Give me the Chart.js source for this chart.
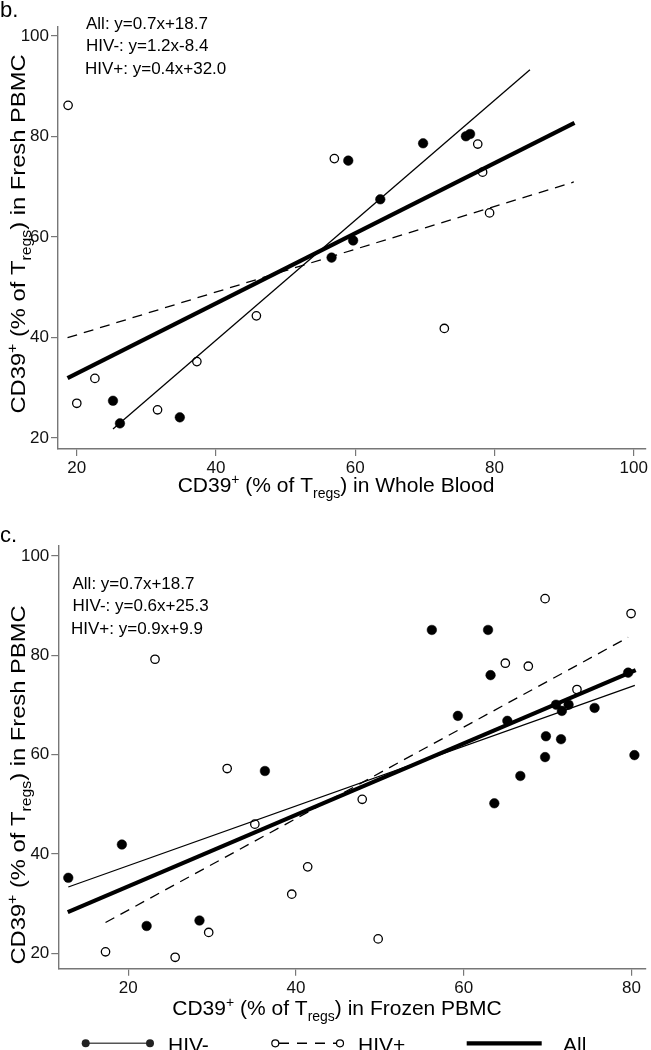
<!DOCTYPE html>
<html>
<head>
<meta charset="utf-8">
<script src="https://cdn.jsdelivr.net/npm/chart.js@4.4.1/dist/chart.umd.min.js"></script>
<style>
  html, body { margin: 0; padding: 0; background: #fff; }
  #wrap { position: relative; width: 651px; height: 1050px; overflow: hidden; background: #fff; }
  canvas { position: absolute; left: 0; }
  #c1 { top: 0; }
  #c2 { top: 505px; }
</style>
</head>
<body>
<div id="wrap">
  <canvas id="c1" width="651" height="505"></canvas>
  <canvas id="c2" width="651" height="545"></canvas>
</div>
<script>
// ---------- Panel b: Whole Blood vs Fresh PBMC ----------
const bNegX = [25.2, 26.2, 34.8, 56.6, 59.0, 59.7, 63.6, 69.75, 75.9, 76.5];
const bNegY = [27.4, 22.9, 24.1, 55.9, 75.2, 59.3, 67.5, 78.65, 80.05, 80.5];
const bPosX = [18.75, 20.0, 22.6, 31.6, 37.25, 45.8, 57.0, 72.8, 77.6, 78.3, 79.3];
const bPosY = [86.2, 26.9, 31.85, 25.6, 35.2, 44.3, 75.6, 41.8, 78.5, 72.9, 64.8];
const bFitAllX = [18.67, 91.5];  const bFitAllY = [31.9, 82.7];
const bFitNegX = [25.2, 85.1];   const bFitNegY = [21.8, 93.3];
const bFitPosX = [18.67, 91.4];  const bFitPosY = [39.95, 70.95];
const bEquations = ["All: y=0.7x+18.7", "HIV-: y=1.2x-8.4", "HIV+: y=0.4x+32.0"];
const bXTicks = [20, 40, 60, 80, 100];
const bYTicks = [20, 40, 60, 80, 100];

// ---------- Panel c: Frozen PBMC vs Fresh PBMC ----------
const cNegX = [12.86, 19.25, 22.2, 28.5, 36.3, 56.2, 59.3, 62.9, 63.2, 63.65, 65.2, 66.75, 69.7, 69.8, 71.0, 71.6, 71.7, 72.5, 75.6, 79.6, 80.35];
const cNegY = [35.2, 41.9, 25.5, 26.6, 56.7, 85.1, 67.8, 85.1, 76.0, 50.2, 66.8, 55.7, 59.5, 63.7, 70.05, 63.1, 68.8, 70.05, 69.4, 76.5, 59.9];
const cPosX = [17.3, 23.2, 25.6, 29.6, 31.8, 35.1, 39.5, 41.4, 47.9, 49.8, 64.96, 67.7, 69.7, 73.5, 79.95];
const cPosY = [20.3, 79.2, 19.2, 24.2, 57.2, 46.0, 31.9, 37.4, 51.0, 22.9, 78.4, 77.8, 91.4, 73.1, 88.4];
const cFitAllX = [12.8, 80.5];   const cFitAllY = [28.3, 77.0];
const cFitNegX = [12.86, 80.4];  const cFitNegY = [33.35, 73.95];
const cFitPosX = [17.3, 79.6];   const cFitPosY = [26.2, 83.6];
const cEquations = ["All: y=0.7x+18.7", "HIV-: y=0.6x+25.3", "HIV+: y=0.9x+9.9"];
const cXTicks = [20, 40, 60, 80];
const cYTicks = [20, 40, 60, 80, 100];

const legendLabels = ["HIV-", "HIV+", "All"];

const FONT = '"Liberation Sans", Arial, Helvetica, sans-serif';
const AXIS = '#777';

function pts(xs, ys) { return xs.map((x, i) => ({ x: x, y: ys[i] })); }

function richText(ctx, segs, x, y, size, small) {
  let total = 0;
  const widths = segs.map(([t, k]) => {
    ctx.font = (k === 'n' ? size : small) + 'px ' + FONT;
    const w = ctx.measureText(t).width; total += w; return w;
  });
  let cx = x - total / 2;
  segs.forEach(([t, k], i) => {
    ctx.font = (k === 'n' ? size : small) + 'px ' + FONT;
    let dy = 0;
    if (k === 'sup') dy = -Math.round(size * 0.38);
    if (k === 'sub') dy = Math.round(size * 0.28);
    ctx.fillText(t, cx, y + dy);
    cx += widths[i];
  });
}

function makeChart(id, cfg) {
  const datasets = [
    { type: 'line', label: 'All fit', data: pts(cfg.fitAllX, cfg.fitAllY), borderColor: '#000', borderWidth: 4.2, pointRadius: 0, fill: false, order: 1 },
    { type: 'line', label: 'HIV- fit', data: pts(cfg.fitNegX, cfg.fitNegY), borderColor: '#000', borderWidth: 1.3, pointRadius: 0, fill: false, order: 2 },
    { type: 'line', label: 'HIV+ fit', data: pts(cfg.fitPosX, cfg.fitPosY), borderColor: '#000', borderWidth: 1.3, borderDash: [10, 7], pointRadius: 0, fill: false, order: 3 },
    { type: 'scatter', label: 'HIV-', data: pts(cfg.negX, cfg.negY), pointRadius: 4.8, pointBackgroundColor: '#000', pointBorderColor: '#000', pointBorderWidth: 0.5, order: 4 },
    { type: 'scatter', label: 'HIV+', data: pts(cfg.posX, cfg.posY), pointRadius: 4.2, pointBackgroundColor: '#fff', pointBorderColor: '#000', pointBorderWidth: 1.3, order: 5 }
  ];
  const textPlugin = {
    id: 'texts' + id,
    afterDraw(chart) {
      const ctx = chart.ctx;
      ctx.save();
      ctx.fillStyle = '#000';
      ctx.textBaseline = 'alphabetic';
      ctx.textAlign = 'left';
      ctx.font = '22px ' + FONT;
      ctx.fillText(cfg.letter, 0, cfg.letterY);
      ctx.font = '17px ' + FONT;
      cfg.equations.forEach((t, i) => ctx.fillText(t, cfg.eqX[i], cfg.eqY[i]));
      richText(ctx, [['CD39', 'n'], ['+', 'sup'], [' (% of T', 'n'], ['regs', 'sub'], [') in ' + cfg.xName, 'n']], cfg.xTitleX, cfg.xTitleY, 21, 14);
      ctx.save();
      ctx.translate(cfg.yTitleX, cfg.yTitleY);
      ctx.rotate(-Math.PI / 2);
      ctx.scale(1.13, 1);
      richText(ctx, [['CD39', 'n'], ['+', 'sup'], [' (% of T', 'n'], ['regs', 'sub'], [') in Fresh PBMC', 'n']], 0, 0, 21, 14);
      ctx.restore();
      if (cfg.legend) cfg.legend(ctx);
      ctx.restore();
    }
  };
  return new Chart(document.getElementById(id), {
    data: { datasets: datasets },
    options: {
      responsive: false,
      animation: false,
      devicePixelRatio: 1,
      layout: { padding: { top: cfg.padTop, right: cfg.padRight, left: 0, bottom: 0 } },
      plugins: { legend: { display: false }, tooltip: { enabled: false } },
      scales: {
        x: {
          type: 'linear', position: 'bottom', min: cfg.xMin, max: cfg.xMax,
          afterBuildTicks: s => { s.ticks = cfg.xTicks.map(v => ({ value: v })); },
          afterFit: s => { s.height = cfg.xScaleH; },
          grid: { drawOnChartArea: false, drawTicks: true, tickLength: 7, color: AXIS, lineWidth: 1.2 },
          border: { display: true, color: AXIS, width: 1.4 },
          ticks: { color: '#111', font: { family: FONT, size: 17 }, padding: 2, maxRotation: 0, autoSkip: false }
        },
        y: {
          type: 'linear', position: 'left', min: cfg.yMin, max: cfg.yMax,
          afterBuildTicks: s => { s.ticks = cfg.yTicks.map(v => ({ value: v })); },
          afterFit: s => { s.width = cfg.yScaleW; },
          grid: { drawOnChartArea: false, drawTicks: true, tickLength: 7, color: AXIS, lineWidth: 1.2 },
          border: { display: true, color: AXIS, width: 1.4 },
          ticks: { color: '#111', font: { family: FONT, size: 17 }, padding: 2, autoSkip: false }
        }
      }
    },
    plugins: [textPlugin]
  });
}

makeChart('c1', {
  negX: bNegX, negY: bNegY, posX: bPosX, posY: bPosY,
  fitAllX: bFitAllX, fitAllY: bFitAllY, fitNegX: bFitNegX, fitNegY: bFitNegY, fitPosX: bFitPosX, fitPosY: bFitPosY,
  xMin: 17.3, xMax: 101.7, yMin: 17.8, yMax: 101.8, xTicks: bXTicks, yTicks: bYTicks,
  padTop: 27, padRight: 4, xScaleH: 56, yScaleW: 58,
  letter: 'b.', letterY: 17, equations: bEquations, eqX: [86, 86, 85], eqY: [28.5, 51, 74],
  xName: 'Whole Blood', xTitleX: 336, xTitleY: 492, yTitleX: 25, yTitleY: 234
});

makeChart('c2', {
  negX: cNegX, negY: cNegY, posX: cPosX, posY: cPosY,
  fitAllX: cFitAllX, fitAllY: cFitAllY, fitNegX: cFitNegX, fitNegY: cFitNegY, fitPosX: cFitPosX, fitPosY: cFitPosY,
  xMin: 11.67, xMax: 81.67, yMin: 16.9, yMax: 102, xTicks: cXTicks, yTicks: cYTicks,
  padTop: 41, padRight: 4.3, xScaleH: 81.3, yScaleW: 58.3,
  letter: 'c.', letterY: 37, equations: cEquations, eqX: [72.5, 72.5, 71], eqY: [83.5, 106, 128.5],
  xName: 'Frozen PBMC', xTitleX: 337, xTitleY: 510, yTitleX: 25, yTitleY: 280,
  legend: function (ctx) {
    const ly = 538.3;
    ctx.font = '21px ' + FONT;
    ctx.fillStyle = '#000';
    ctx.strokeStyle = '#555'; ctx.lineWidth = 1.5; ctx.setLineDash([]);
    ctx.beginPath(); ctx.moveTo(85.7, ly); ctx.lineTo(150, ly); ctx.stroke();
    ctx.fillStyle = '#222';
    [85.7, 150].forEach(x => { ctx.beginPath(); ctx.arc(x, ly, 4, 0, Math.PI * 2); ctx.fill(); });
    ctx.fillStyle = '#000';
    ctx.fillText(legendLabels[0], 168, 547);
    ctx.strokeStyle = '#000'; ctx.lineWidth = 1.5; ctx.setLineDash([10, 8]);
    ctx.beginPath(); ctx.moveTo(279, ly); ctx.lineTo(336.5, ly); ctx.stroke();
    ctx.setLineDash([]);
    ctx.lineWidth = 1.2;
    [275.3, 340].forEach(x => { ctx.beginPath(); ctx.arc(x, ly, 3.5, 0, Math.PI * 2); ctx.fillStyle = '#fff'; ctx.fill(); ctx.stroke(); });
    ctx.fillStyle = '#000';
    ctx.fillText(legendLabels[1], 358, 547);
    ctx.lineWidth = 4.3;
    ctx.beginPath(); ctx.moveTo(466.7, ly); ctx.lineTo(541.7, ly); ctx.stroke();
    ctx.fillText(legendLabels[2], 563, 547);
  }
});
</script>
</body>
</html>
